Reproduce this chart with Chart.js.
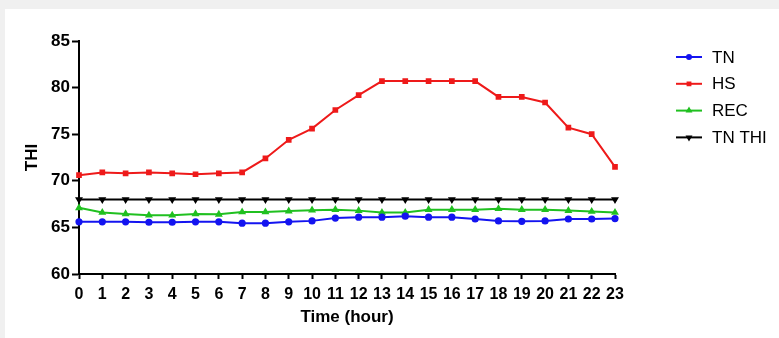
<!DOCTYPE html>
<html>
<head>
<meta charset="utf-8">
<script src="https://cdn.jsdelivr.net/npm/chart.js@4.4.1/dist/chart.umd.min.js"></script>
<style>
  html, body { margin: 0; padding: 0; background: #f0f0f0; }
  #wrap { position: relative; width: 779px; height: 338px; }
</style>
</head>
<body>
<div id="wrap"><canvas id="thiChart"></canvas></div>
<script>
// hours on the x axis
const hours = ["0","1","2","3","4","5","6","7","8","9","10","11","12","13","14","15","16","17","18","19","20","21","22","23"];

// THI values per group
const tnValues = [65.6,65.6,65.6,65.55,65.55,65.6,65.6,65.45,65.45,65.6,65.7,66.0,66.1,66.1,66.2,66.1,66.1,65.9,65.7,65.65,65.7,65.9,65.9,65.95];
const hsValues = [70.6,70.9,70.8,70.9,70.8,70.7,70.8,70.9,72.4,74.4,75.6,77.6,79.2,80.7,80.7,80.7,80.7,80.7,79.0,79.0,78.4,75.7,75.0,71.5];
const recValues = [67.1,66.6,66.45,66.3,66.3,66.45,66.4,66.65,66.65,66.75,66.85,66.9,66.8,66.6,66.6,66.9,66.9,66.9,67.0,66.9,66.9,66.8,66.7,66.6];
const tnThiValues = [68,68,68,68,68,68,68,68,68,68,68,68,68,68,68,68,68,68,68,68,68,68,68,68];

const yTicks = [60, 65, 70, 75, 80, 85];

const FONT = "'Liberation Sans', Arial, sans-serif";

// gray page with the white panel behind the chart
const panelBg = {
  id: "panelBg",
  beforeDraw(chart) {
    const ctx = chart.ctx;
    ctx.save();
    ctx.fillStyle = "#f0f0f0";
    ctx.fillRect(0, 0, chart.width, chart.height);
    ctx.fillStyle = "#ffffff";
    ctx.fillRect(5, 9, chart.width - 5, chart.height - 9);
    ctx.restore();
  }
};

// legend on the right: short line with the marker in the middle
const sideLegend = {
  id: "sideLegend",
  afterDraw(chart) {
    const ctx = chart.ctx;
    ctx.save();
    chart.data.datasets.forEach((ds, i) => {
      const y = 57 + i * 26.8;
      ctx.strokeStyle = ds.borderColor;
      ctx.lineWidth = 2;
      ctx.beginPath();
      ctx.moveTo(676, y);
      ctx.lineTo(702, y);
      ctx.stroke();
      ctx.fillStyle = ds.borderColor;
      Chart.helpers.drawPoint(ctx, {
        pointStyle: ds.pointStyle,
        rotation: ds.pointRotation || 0,
        radius: 2,
        borderWidth: 1
      }, 689, y);
      ctx.fillStyle = "#000";
      ctx.font = "17px " + FONT;
      ctx.textBaseline = "middle";
      ctx.textAlign = "left";
      ctx.fillText(ds.label, 712, y + 1);
    });
    ctx.restore();
  }
};

function series(label, data, color, style, rotation) {
  return {
    label: label,
    data: data,
    borderColor: color,
    backgroundColor: color,
    pointBackgroundColor: color,
    pointBorderColor: color,
    borderWidth: 2,
    pointStyle: style,
    pointRotation: rotation || 0,
    pointRadius: 2.6,
    pointHoverRadius: 2.6,
    tension: 0
  };
}

new Chart(document.getElementById("thiChart"), {
  type: "line",
  data: {
    labels: hours,
    datasets: [
      series("TN", tnValues, "#1414f0", "circle"),
      series("HS", hsValues, "#ee1a1a", "rect"),
      series("REC", recValues, "#20c020", "triangle"),
      series("TN THI", tnThiValues, "#000000", "triangle", 180)
    ]
  },
  options: {
    responsive: true,
    maintainAspectRatio: false,
    animation: false,
    layout: { padding: { left: 0, top: 41, right: 164, bottom: 0 } },
    plugins: {
      legend: { display: false },
      tooltip: { enabled: false }
    },
    scales: {
      x: {
        offset: false,
        afterFit(scale) { scale.height = 64; },
        border: { display: true, color: "#000", width: 2 },
        grid: { display: true, drawOnChartArea: false, drawTicks: true, tickLength: 5, tickColor: "#000", tickWidth: 2 },
        ticks: { color: "#000", padding: 6, maxRotation: 0, autoSkip: false, font: { family: FONT, size: 16, weight: "bold" } },
        title: { display: true, text: "Time (hour)", color: "#000", padding: { top: 0, bottom: 10 }, font: { family: FONT, size: 17, weight: "bold" } }
      },
      y: {
        min: 60,
        max: 85,
        afterFit(scale) { scale.width = 79; },
        afterBuildTicks(scale) { scale.ticks = yTicks.map(v => ({ value: v })); },
        border: { display: true, color: "#000", width: 2 },
        grid: { display: true, drawOnChartArea: false, drawTicks: true, tickLength: 7, tickColor: "#000", tickWidth: 2 },
        ticks: { color: "#000", padding: 2, font: { family: FONT, size: 17, weight: "bold" } },
        title: { display: true, text: "THI", color: "#000", padding: { top: 22, bottom: 0 }, font: { family: FONT, size: 17, weight: "bold" } }
      }
    }
  },
  plugins: [panelBg, sideLegend]
});
</script>
</body>
</html>
